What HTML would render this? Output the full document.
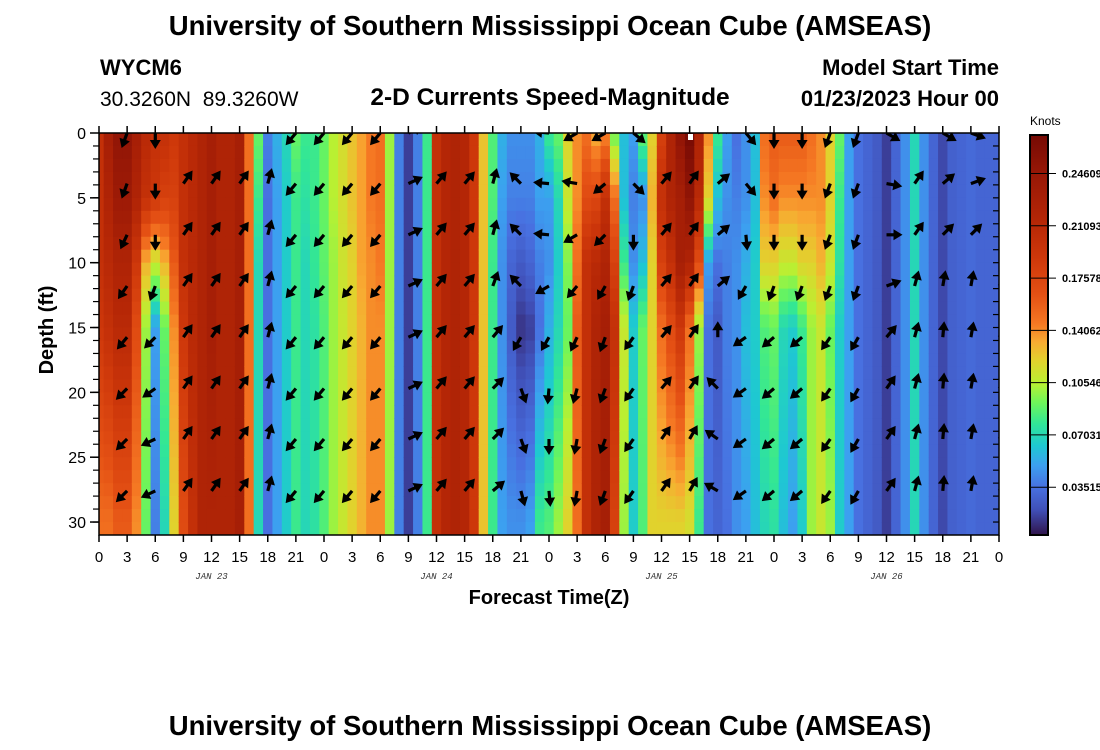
<!DOCTYPE html>
<html><head><meta charset="utf-8"><style>
body{margin:0;background:#fff;}
svg{display:block;font-family:"Liberation Sans",sans-serif;}
</style></head><body>
<svg id="chart" width="1100" height="750" viewBox="0 0 1100 750" xmlns="http://www.w3.org/2000/svg">
<rect width="1100" height="750" fill="#fff"/>
<text x="550" y="35" text-anchor="middle" font-size="27.5" font-weight="bold">University of Southern Mississippi Ocean Cube (AMSEAS)</text>
<text x="100" y="75" font-size="22" font-weight="bold">WYCM6</text>
<text x="100" y="106" font-size="21" style="white-space:pre" xml:space="preserve">30.3260N  89.3260W</text>
<text x="550" y="105" text-anchor="middle" font-size="24.5" font-weight="bold">2-D Currents Speed-Magnitude</text>
<text x="999" y="75" text-anchor="end" font-size="22" font-weight="bold">Model Start Time</text>
<text x="999" y="106" text-anchor="end" font-size="22" font-weight="bold">01/23/2023 Hour 00</text>
<text x="550" y="735" text-anchor="middle" font-size="27.5" font-weight="bold">University of Southern Mississippi Ocean Cube (AMSEAS)</text>
<defs><clipPath id="pc"><rect x="99" y="133" width="900" height="402"/></clipPath></defs>
<g id="heat" clip-path="url(#pc)"></g>
<g id="arrows" clip-path="url(#pc)"></g>
<rect x="688" y="134" width="5" height="6" fill="#fff"/>
<rect x="99" y="133" width="900" height="402" fill="none" stroke="#000" stroke-width="1.5"/>
<g id="axes"></g>
<text x="549" y="604" text-anchor="middle" font-size="20" font-weight="bold">Forecast Time(Z)</text>
<text transform="translate(53,330) rotate(-90)" text-anchor="middle" font-size="20" font-weight="bold">Depth (ft)</text>
<text x="1030" y="125" font-size="12">Knots</text>
<g id="cbar"></g>
</svg>
<script>
// depth levels (ft) for which speeds are given
const depthLevels = [0, 5, 10, 15, 30];
// speeds in 1/1000 knots, hours 0..96
const speedD0 = [200,230,250,250,230,210,200,200,190,200,210,220,230,220,220,230,150,90,40,55,70,90,80,80,90,105,115,125,135,145,150,100,40,15,40,80,200,215,220,215,190,125,85,55,45,45,45,55,80,90,120,140,150,130,140,90,60,50,90,120,180,220,250,270,220,140,80,50,35,45,60,150,160,160,160,160,150,140,120,90,50,35,30,25,15,30,45,70,45,30,18,28,30,32,30,30,30];
const speedD5 = [200,220,240,240,220,200,190,180,180,200,210,220,230,220,220,230,150,80,35,50,65,80,75,80,90,105,115,125,135,145,150,100,40,15,40,80,200,215,220,215,190,125,85,50,40,40,40,50,50,70,110,140,170,175,200,150,60,40,45,130,200,220,230,250,210,120,60,45,40,45,60,140,150,140,140,140,140,140,120,80,50,35,30,25,15,30,45,70,45,30,18,28,30,32,30,30,30];
const speedD10 = [200,210,220,220,190,130,110,130,160,200,210,220,230,220,220,230,150,70,35,50,65,80,70,78,88,100,112,120,135,140,145,100,40,15,40,80,200,215,220,215,190,125,80,45,30,25,30,40,45,65,95,150,200,210,220,180,80,45,60,120,180,200,230,220,170,50,35,40,45,55,65,120,120,110,110,120,120,130,110,75,50,35,30,25,15,30,45,70,45,30,18,28,30,32,30,30,30];
const speedD15 = [190,200,210,210,170,100,50,90,140,190,210,220,230,220,220,230,150,70,35,50,65,80,70,75,85,100,110,120,130,140,140,100,40,15,40,80,200,215,220,215,190,125,80,45,25,12,15,35,55,70,90,160,200,220,230,200,110,65,90,120,150,170,190,150,100,35,25,40,45,60,65,85,90,70,65,80,100,110,90,65,50,35,30,25,15,30,45,70,45,30,18,28,30,32,30,30,30];
const speedD30 = [150,150,160,160,140,90,40,70,120,170,200,220,220,220,220,230,150,70,35,50,65,80,70,75,85,100,110,120,130,140,140,100,40,15,40,80,200,215,220,215,190,125,80,50,45,45,50,80,85,100,120,150,200,220,230,180,100,65,85,120,120,120,120,115,80,35,30,35,45,50,60,70,75,60,50,65,100,110,100,65,50,35,30,25,15,30,45,70,45,30,18,28,30,32,30,30,30];
const speedLevels = [speedD0, speedD5, speedD10, speedD15, speedD30];
// vector grid
const vecHours = [0,3,6,9,12,15,18,21,24,27,30,33,36,39,42,45,48,51,54,57,60,63,66,69,72,75,78,81,84,87,90,93,96];
const vecDepths = [0,3.9,7.85,11.8,15.75,19.7,23.6,27.6];
// direction (deg clockwise from up) per column, per row
const vecDirs = [
[225,225,225,225,225,225,225,225],[200,200,205,215,220,225,225,225],[180,180,180,200,225,235,245,245],
[35,35,35,35,35,35,35,35],[35,35,35,35,35,35,35,35],[35,35,35,35,35,35,35,35],[15,15,15,15,15,15,15,15],
[220,220,220,220,220,220,220,220],[220,220,220,220,220,220,220,220],[220,220,220,220,220,220,220,220],[220,220,220,220,220,220,220,220],
[65,65,65,65,65,65,65,65],[40,40,40,40,40,40,40,40],[40,40,40,40,40,40,40,40],[15,15,15,20,40,45,45,50],
[315,315,315,315,210,160,160,165],[275,275,275,240,210,185,180,175],[240,280,240,220,205,195,190,190],
[240,230,225,210,200,200,200,200],[130,135,180,200,215,215,215,215],[40,40,40,40,40,40,35,35],
[35,35,35,35,35,35,30,30],[60,50,50,50,0,315,305,300],[140,140,175,210,235,235,235,235],
[180,180,180,200,230,230,230,230],[180,180,180,200,230,230,230,230],[200,200,200,200,215,215,215,215],
[200,200,200,200,210,210,210,210],[120,100,90,70,40,35,35,35],[35,35,35,15,15,15,15,15],
[120,50,45,10,5,5,5,5],[110,70,45,10,10,10,10,10],[110,75,60,45,45,45,45,45]];
const xTickHours = [0,3,6,9,12,15,18,21,24,27,30,33,36,39,42,45,48,51,54,57,60,63,66,69,72,75,78,81,84,87,90,93,96];
const xTickLabels = ["0","3","6","9","12","15","18","21","0","3","6","9","12","15","18","21","0","3","6","9","12","15","18","21","0","3","6","9","12","15","18","21","0"];
const dateHours = [12,36,60,84];
const dateLabels = ["JAN 23","JAN 24","JAN 25","JAN 26"];
const yTicks = [0,5,10,15,20,25,30];
const cbTicks = [0.03515,0.07031,0.10546,0.14062,0.17578,0.21093,0.24609];

const NS="http://www.w3.org/2000/svg";
const X0=99,X1=999,Y0=133,Y1=535,HMAX=96,DMAX=31;
const xs=h=>X0+(h/HMAX)*(X1-X0);
const ys=d=>Y0+(d/DMAX)*(Y1-Y0);
const CBV0=0.003,CBV1=0.272,CBY0=135,CBY1=535;
const cbY=v=>CBY1-(v-CBV0)/(CBV1-CBV0)*(CBY1-CBY0);
const stops=[[0.003,[48,20,75]],[0.02,[64,80,184]],[0.035,[72,112,224]],[0.05,[60,160,240]],[0.063,[30,200,210]],[0.078,[50,230,150]],[0.092,[110,245,90]],[0.105,[185,240,50]],[0.12,[225,210,45]],[0.133,[248,170,50]],[0.145,[245,120,35]],[0.165,[228,80,20]],[0.19,[205,55,10]],[0.215,[180,38,6]],[0.245,[152,24,6]],[0.272,[118,10,4]]];
function col(v){
  if(v<=stops[0][0])return `rgb(${stops[0][1]})`;
  for(let i=1;i<stops.length;i++){if(v<=stops[i][0]){const a=stops[i-1],b=stops[i],t=(v-a[0])/(b[0]-a[0]);
    return `rgb(${a[1].map((c,k)=>Math.round(c+(b[1][k]-c)*t)).join(',')})`;}}
  return `rgb(${stops[stops.length-1][1]})`;
}
function speedAt(h,d){
  let i=0;while(i<depthLevels.length-2&&d>depthLevels[i+1])i++;
  const t=Math.min(1,Math.max(0,(d-depthLevels[i])/(depthLevels[i+1]-depthLevels[i])));
  return (speedLevels[i][h]*(1-t)+speedLevels[i+1][h]*t)/1000;
}
function mk(tag,attrs,parent){const e=document.createElementNS(NS,tag);for(const k in attrs)e.setAttribute(k,attrs[k]);parent.appendChild(e);return e;}
const heat=document.getElementById('heat');
for(let h=0;h<speedD0.length;h++){
  for(let r=0;r<DMAX;r++){
    const v=speedAt(h,r+0.5);
    const x0=xs(h-0.5),x1=xs(h+0.5);
    const c=mk('rect',{x:x0.toFixed(2),y:ys(r).toFixed(2),width:(x1-x0+0.6).toFixed(2),height:(ys(1)-ys(0)+0.6).toFixed(2),fill:col(v)},heat);
    
    
  }
}
const arrows=document.getElementById('arrows');
vecHours.forEach((h,ci)=>{vecDepths.forEach((d,ri)=>{
  const g=mk('g',{transform:`translate(${xs(h).toFixed(1)},${ys(d).toFixed(1)}) rotate(${vecDirs[ci][ri]})`},arrows);
  
  
  mk('line',{x1:0,y1:0,x2:0,y2:-9,stroke:'#000','stroke-width':3.2},g);
  mk('polygon',{points:'0,-16 -5.5,-7 5.5,-7',fill:'#000'},g);
});});
const axes=document.getElementById('axes');
xTickHours.forEach((h,i)=>{
  const x=xs(h);
  let t=mk('line',{x1:x,y1:Y1,x2:x,y2:Y1+7,stroke:'#000','stroke-width':1.5},axes);
  
  t=mk('line',{x1:x,y1:Y0,x2:x,y2:Y0-7,stroke:'#000','stroke-width':1.5},axes);
  
  const l=mk('text',{x:x,y:562,'text-anchor':'middle','font-size':15},axes);l.textContent=xTickLabels[i];
  
});
dateHours.forEach((h,i)=>{
  const l=mk('text',{x:xs(h),y:579,'text-anchor':'middle','font-size':9,'font-style':'italic','font-family':'Liberation Mono, monospace','fill':'#333'},axes);
  l.textContent=dateLabels[i];
  
});
for(let d=1;d<DMAX;d++){
  let t=mk('line',{x1:X0-6,y1:ys(d),x2:X0,y2:ys(d),stroke:'#000','stroke-width':1.2},axes);
  
  t=mk('line',{x1:X1-6,y1:ys(d),x2:X1,y2:ys(d),stroke:'#000','stroke-width':1.2},axes);
  
}
yTicks.forEach(d=>{
  const t=mk('line',{x1:X0-9,y1:ys(d),x2:X0,y2:ys(d),stroke:'#000','stroke-width':1.5},axes);
  
  const l=mk('text',{x:86,y:ys(d)+6,'text-anchor':'end','font-size':16},axes);l.textContent=d;
  
});
const cbar=document.getElementById('cbar');
for(let y=CBY0;y<CBY1;y++){
  const v=CBV0+(CBY1-y-0.5)/(CBY1-CBY0)*(CBV1-CBV0);
  const r=mk('rect',{x:1030,y:y,width:18,height:1.5,fill:col(v)},cbar);
  
}
mk('rect',{x:1030,y:CBY0,width:18,height:CBY1-CBY0,fill:'none',stroke:'#000','stroke-width':2},cbar);
cbTicks.forEach(v=>{
  const y=cbY(v);
  const t=mk('line',{x1:1030,y1:y,x2:1056,y2:y,stroke:'#000','stroke-width':1},cbar);
  
  const l=mk('text',{x:1062,y:y+4,'font-size':11,'font-weight':'bold'},cbar);l.textContent=v.toFixed(5);
  
});
</script>
</body></html>
